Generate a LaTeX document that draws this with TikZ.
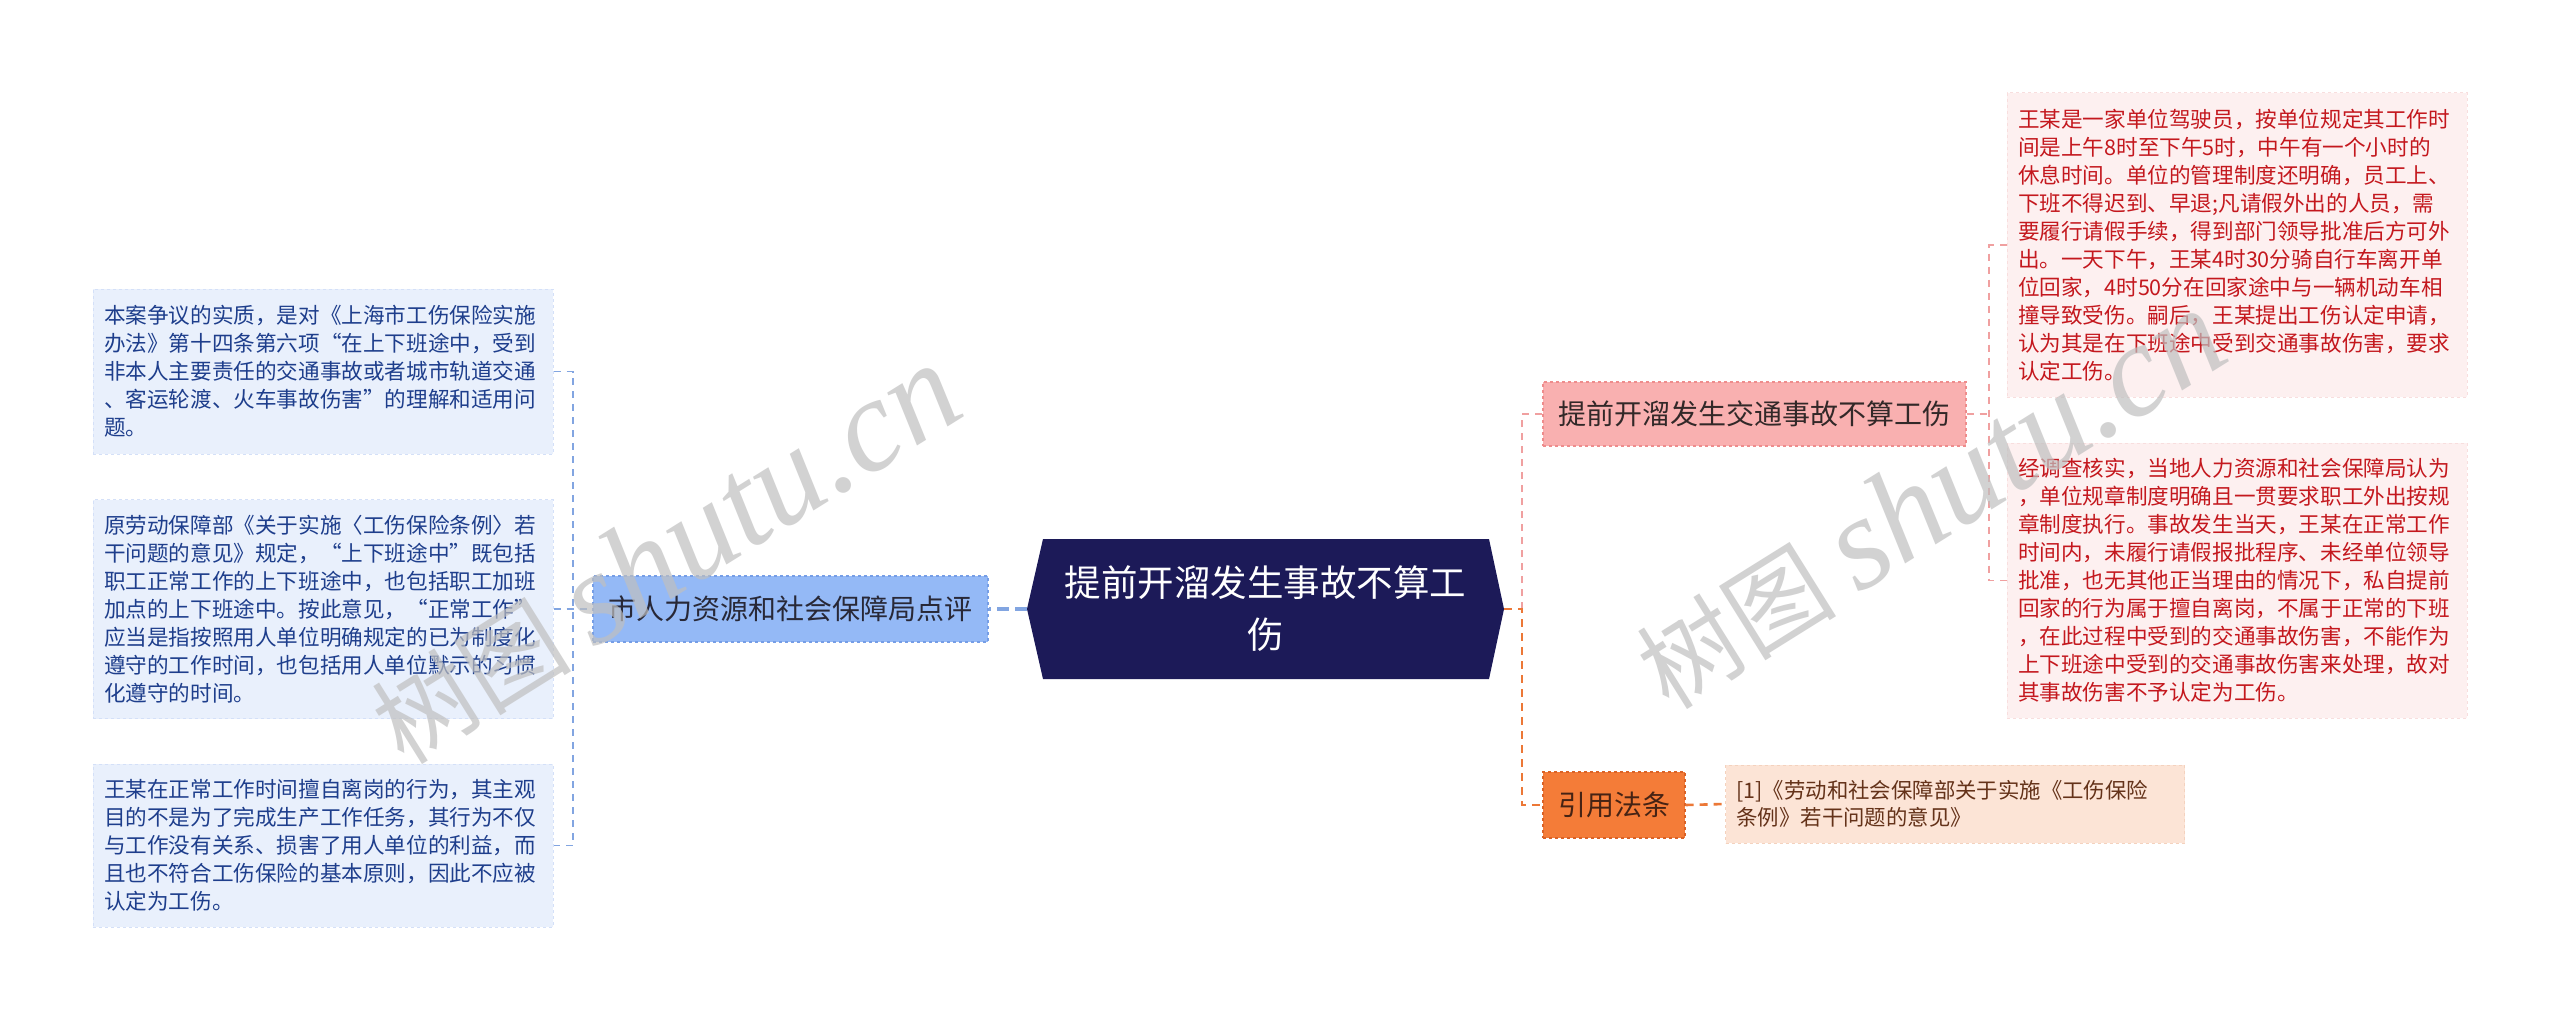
\documentclass[tikz,border=0pt]{standalone}
\usepackage{fontspec}
\setmainfont{Noto Sans CJK SC}
\newfontfamily\wmserif{Liberation Serif}
\usetikzlibrary{calc}
\definecolor{navy}{RGB}{28,26,88}
\definecolor{lboxfill}{RGB}{233,240,252}
\definecolor{lboxedge}{RGB}{212,224,248}
\definecolor{lboxtext}{RGB}{30,62,140}
\definecolor{lnfill}{RGB}{148,185,246}
\definecolor{lnedge}{RGB}{118,158,230}
\definecolor{pboxfill}{RGB}{253,240,240}
\definecolor{pboxedge}{RGB}{248,222,222}
\definecolor{pboxtext}{RGB}{196,24,30}
\definecolor{ronefill}{RGB}{249,176,176}
\definecolor{roneedge}{RGB}{238,140,140}
\definecolor{rtwofill}{RGB}{244,124,56}
\definecolor{rtwoedge}{RGB}{218,98,38}
\definecolor{reffill}{RGB}{252,228,214}
\definecolor{refedge}{RGB}{244,210,190}
\definecolor{reftext}{RGB}{100,50,25}
\definecolor{llinec}{RGB}{130,165,225}
\definecolor{plinec}{RGB}{240,160,160}
\definecolor{olinec}{RGB}{236,120,55}
\begin{document}
\begin{tikzpicture}[x=1pt,y=-1pt,
  txtbox/.style={rectangle, inner xsep=11pt, inner ysep=0pt, align=left,
    font=\fontsize{21.6}{28}\selectfont},
  lbox/.style={txtbox, fill=lboxfill, draw=lboxedge, dashed, line width=1pt,
    text=lboxtext, text width=438pt, minimum height=#1},
  pbox/.style={txtbox, fill=pboxfill, draw=pboxedge, dashed, line width=1pt,
    text=pboxtext, text width=438pt, minimum height=#1},
  refbox/.style={txtbox, fill=reffill, draw=refedge, dashed, line width=1pt,
    text=reftext, text width=438pt, minimum height=78pt,
    font=\fontsize{21.4}{27}\selectfont},
  branch/.style={rectangle, inner sep=0pt, dashed, line width=1.2pt,
    font=\fontsize{28}{32}\selectfont, minimum height=#1},
  centre/.style={rectangle, inner sep=0pt, minimum width=477pt, minimum height=140pt,
    text=white, align=center, font=\fontsize{36.5}{52}\selectfont},
  lline/.style={draw=llinec, line width=3.5pt, dash pattern=on 12pt off 6pt},
  lthin/.style={draw=llinec, line width=1.8pt, dash pattern=on 7pt off 6pt},
  pline/.style={draw=plinec, line width=2.2pt, dash pattern=on 7pt off 6pt},
  pthin/.style={draw=plinec, line width=1.6pt, dash pattern=on 7pt off 6pt},
  oline/.style={draw=olinec, line width=2.6pt, dash pattern=on 8pt off 6pt},
  wm/.style={text=black!25, opacity=0.7, rotate=32, font=\fontsize{100}{100}\selectfont}
]
\useasboundingbox (0,0) rectangle (2560,1022);
\fill[white] (0,0) rectangle (2560,1022);

% central node
\coordinate (cc) at (1265.5,609);
\fill[navy] ($(cc)+(-222.5,-70)$) -- ($(cc)+(-238.5,0)$) -- ($(cc)+(-222.5,70)$)
  -- ($(cc)+(223.5,70)$) -- ($(cc)+(238.5,0)$) -- ($(cc)+(223.5,-70)$) -- cycle;
\node[centre] (c) at (cc) {提前开溜发生事故不算工\\伤};

% left branch
\node[branch=66pt, fill=lnfill, draw=lnedge, minimum width=395pt, text={rgb,255:red,40;green,40;blue,55}]
  (ln) at (790.5,609) {市人力资源和社会保障局点评};

\node[lbox=165pt] (l1) at (323,371.5) {本案争议的实质，是对《上海市工伤保险实施\\
办法》第十四条第六项“在上下班途中，受到\\
非本人主要责任的交通事故或者城市轨道交通\\
、客运轮渡、火车事故伤害”的理解和适用问\\
题。};
\node[lbox=219pt] (l2) at (323,609) {原劳动保障部《关于实施〈工伤保险条例〉若\\
干问题的意见》规定，“上下班途中”既包括\\
职工正常工作的上下班途中，也包括职工加班\\
加点的上下班途中。按此意见，“正常工作”\\
应当是指按照用人单位明确规定的已为制度化\\
遵守的工作时间，也包括用人单位默示的习惯\\
化遵守的时间。};
\node[lbox=163pt] (l3) at (323,845.5) {王某在正常工作时间擅自离岗的行为，其主观\\
目的不是为了完成生产工作任务，其行为不仅\\
与工作没有关系、损害了用人单位的利益，而\\
且也不符合工伤保险的基本原则，因此不应被\\
认定为工伤。};

% right branches
\node[branch=64pt, fill=ronefill, draw=roneedge, minimum width=423pt, text={rgb,255:red,50;green,40;blue,40}]
  (r1) at (1754.5,414) {提前开溜发生交通事故不算工伤};
\node[branch=66pt, fill=rtwofill, draw=rtwoedge, minimum width=142pt, text={rgb,255:red,70;green,35;blue,20}]
  (r2) at (1614,805) {引用法条};

\node[pbox=304pt] (t1) at (2237,245) {王某是一家单位驾驶员，按单位规定其工作时\\
间是上午8时至下午5时，中午有一个小时的\\
休息时间。单位的管理制度还明确，员工上、\\
下班不得迟到、早退;凡请假外出的人员，需\\
要履行请假手续，得到部门领导批准后方可外\\
出。一天下午，王某4时30分骑自行车离开单\\
位回家，4时50分在回家途中与一辆机动车相\\
撞导致受伤。嗣后，王某提出工伤认定申请，\\
认为其是在下班途中受到交通事故伤害，要求\\
认定工伤。};
\node[pbox=275pt] (t2) at (2237,580.5) {经调查核实，当地人力资源和社会保障局认为\\
，单位规章制度明确且一贯要求职工外出按规\\
章制度执行。事故发生当天，王某在正常工作\\
时间内，未履行请假报批程序、未经单位领导\\
批准，也无其他正当理由的情况下，私自提前\\
回家的行为属于擅自离岗，不属于正常的下班\\
，在此过程中受到的交通事故伤害，不能作为\\
上下班途中受到的交通事故伤害来处理，故对\\
其事故伤害不予认定为工伤。};
\node[refbox, text width=437pt] (ref) at (1955,804) {[1]《劳动和社会保障部关于实施《工伤保险\\
条例》若干问题的意见》};

% connectors left
\coordinate (lbus) at (573,609);
\draw[lline] (c.west) -- (ln.east);
\draw[lthin] (l1.east) -| (lbus) |- (l3.east);
\draw[lthin] (l2.east) -- (ln.west);

% connectors right
\coordinate (rbus) at (1522,609);
\coordinate (pbus) at (1989,414);
\draw[pline] (rbus) |- (r1.west);
\draw[oline] (c.east) -- (rbus) |- (r2.west);
\draw[pthin] (r1.east) -- (pbus);
\draw[pthin] (t1.west) -| (pbus) |- (t2.west);
\draw[oline] (r2.east) -- (ref.west);

% watermarks
\node[wm] (wm1) at (665,555) {树图 {\wmserif\itshape\fontsize{132}{132}\selectfont shutu.cn}};
\node[wm] (wm2) at (1930,500) {树图 {\wmserif\itshape\fontsize{132}{132}\selectfont shutu.cn}};
\end{tikzpicture}
\end{document}
